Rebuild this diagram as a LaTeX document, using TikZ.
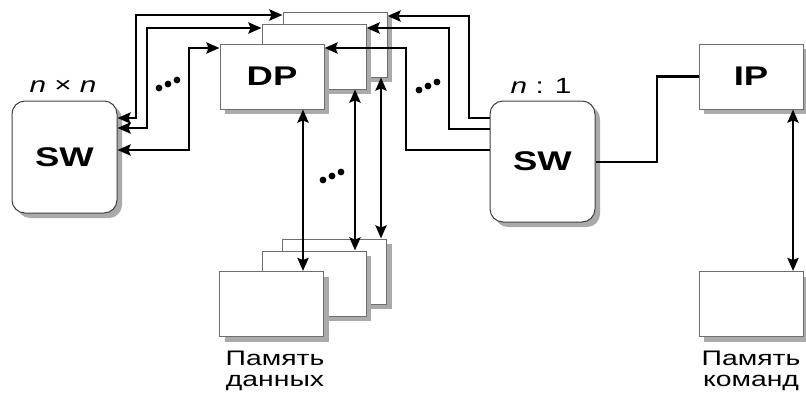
\documentclass[tikz,border=0pt]{standalone}
\usepackage{fontspec}
\setmainfont{Liberation Sans}
\newfontfamily\diagfont[FakeStretch=1.35]{Liberation Sans}
\usetikzlibrary{arrows.meta,shadows}
\definecolor{boxgray} {RGB}{110,110,110}
\definecolor{shadegray}{RGB}{170,170,170}
\tikzset{
  blk/.style={draw=boxgray,fill=white,line width=1pt,inner sep=0pt,
              minimum width=104pt,minimum height=65pt,
              font=\diagfont\fontsize{27}{28}\selectfont\bfseries,
              drop shadow={shadow xshift=5pt,shadow yshift=-5pt,
              fill=shadegray,opacity=1}},
  swbox/.style={blk,draw=black!75,rounded corners=13pt,minimum width=105pt},
  line/.style={draw=black,line width=2.8pt},
  arr/.style={line,-{Stealth[length=13pt,width=11pt,inset=2pt]}},
  biarr/.style={line,{Stealth[length=13pt,width=11pt,inset=2pt]}-{Stealth[length=13pt,width=11pt,inset=2pt]}},
  lbl/.style={font=\diagfont\fontsize{22}{23}\selectfont,inner sep=0pt},
  memlbl/.style={font=\diagfont\fontsize{21}{21}\selectfont,align=center,inner sep=0pt},
}
\newcommand\dotrow[1]{\foreach \i in {0,1,2} \fill ([shift={(\i*9,-\i*4)}]#1) circle (3.4pt);}

\begin{document}
\begin{tikzpicture}[x=1pt,y=-1pt]
\useasboundingbox (0,0) rectangle (806,394);
% processors
\node[blk] (dp3) at (335,44.5) {};
\node[blk] (dp2) at (314,56.5) {};
\node[blk] (dp1) at (272,76.5) {DP};
% data memories
\node[blk] (mem3) at (334.5,271.5) {};
\node[blk] (mem2) at (314,283.5) {};
\node[blk] (mem1) at (271.5,304) {};
% switches
\node[swbox,minimum height=112pt] (sw1) at (64.5,157) {SW};
\node[swbox,minimum height=121pt] (sw2) at (542.5,161.5) {SW};
\node[blk] (ip) at (751,76.5) {IP};
\node[blk] (imem) at (751,304) {};
% labels
\node[lbl] (nxn) at (63,86) {\itshape n \upshape× \itshape n};
\node[lbl] (n1) at (541,86) {\itshape n \upshape: 1};
\node[memlbl] (dmemlbl) at (275,371) {Память\\данных};
\node[memlbl] (imemlbl) at (751,371) {Память\\команд};
% left switch <-> DP
\draw[biarr] (sw1.east |- 0,118) -- (136,118) |- (dp3.west |- 0,15);
\draw[biarr] (sw1.east |- 0,128) -- (147,128) |- (dp2.west |- 0,28);
\draw[biarr] (sw1.east |- 0,150) -- (189,150) |- (dp1.west |- 0,48);
% right switch -> DP
\draw[arr] (sw2.west |- 0,118) -- (469,118) |- (dp3.east |- 0,16);
\draw[arr] (sw2.west |- 0,129) -- (449,129) |- (dp2.east |- 0,28);
\draw[arr] (sw2.west |- 0,150) -- (406,150) |- (dp1.east |- 0,48);
% DP <-> memory
\draw[biarr] (dp1.south -| 303,0) -- (mem1.north -| 303,0);
\draw[biarr] (dp2.south -| 355,0) -- (mem2.north -| 355,0);
\draw[biarr] (dp3.south -| 381,0) -- (mem3.north -| 381,0);
% instruction path
\draw[line] (sw2.east |- 0,162) -- (657,162) |- (ip.west);
\draw[biarr] (ip.south -| 793,0) -- (imem.north -| 793,0);
% dots
\coordinate (dotsL) at (159,88);
\coordinate (dotsR) at (419,90);
\coordinate (dotsM) at (323,180);
\dotrow{dotsL}
\dotrow{dotsR}
\dotrow{dotsM}
\end{tikzpicture}
\end{document}
